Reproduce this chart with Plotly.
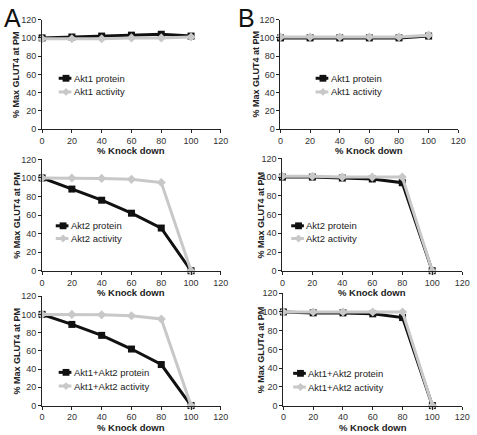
import plotly.graph_objects as go

knockdown = [0, 20, 40, 60, 80, 100]

a1_protein = [100, 101, 102, 103, 104, 102]
a1_activity = [99, 99, 99, 100, 100, 101]
a2_protein = [100, 88, 76, 62, 46, 0]
a2_activity = [100, 100, 99.5, 98.5, 95, 0]
a12_protein = [100, 89, 77, 62, 45, 0]
a12_activity = [100, 100, 99.5, 98.5, 95, 0]

b1_protein = [100, 100, 100, 100, 100, 102]
b1_activity = [101, 101, 101, 101, 101, 103]
b2_protein = [100, 100, 99, 98, 94, 0]
b2_activity = [101, 101, 100, 100, 100, 0]
b12_protein = [100, 99, 99, 98, 94, 0]
b12_activity = [100, 100, 100, 100, 100, 0]

panels = [
    ("Akt1", a1_protein, a1_activity),
    ("Akt2", a2_protein, a2_activity),
    ("Akt1+Akt2", a12_protein, a12_activity),
    ("Akt1", b1_protein, b1_activity),
    ("Akt2", b2_protein, b2_activity),
    ("Akt1+Akt2", b12_protein, b12_activity),
]

x_title = "% Knock down"
y_title = "% Max GLUT4 at PM"

W, H = 477, 435
# pixel boxes (x0, x1, ytop, ybottom)
boxes = [
    (40, 223, 15, 127),
    (40, 223, 158, 272),
    (40, 223, 298, 410),
    (284, 466, 15, 127),
    (286, 470, 157, 272),
    (287, 470, 295, 410),
]
xtitle_off = [22, 22, 22, 22, 22, 22]
ytitle_x = [14, 14, 14, 259, 264, 265]
# legend: line start x, protein row y, activity row y
legend_pos = [
    (57, 75, 89), (54, 226, 239), (57, 376, 390),
    (320, 75, 89), (295, 226, 239), (297, 377, 391),
]

BLACK = "#111111"
GRAY = "#c8c8c8"
FONT = "Liberation Sans, Arial, sans-serif"


def px(x):
    return x / W


def py(y):
    return 1 - y / H


fig = go.Figure()
layout = dict(
    width=W, height=H,
    margin=dict(l=0, r=0, t=0, b=0),
    paper_bgcolor="white", plot_bgcolor="white",
    font=dict(family=FONT, size=9, color="#222"),
    showlegend=False,
)
shapes = []
annotations = []

for i, (name, prot, act) in enumerate(panels):
    n = i + 1
    sfx = "" if n == 1 else str(n)
    fig.add_trace(go.Scatter(
        x=knockdown, y=prot, name=f"{name} protein", mode="lines+markers",
        line=dict(color=BLACK, width=3),
        marker=dict(symbol="square", size=7, color=BLACK),
        xaxis=f"x{sfx}", yaxis=f"y{sfx}", cliponaxis=False,
    ))
    fig.add_trace(go.Scatter(
        x=knockdown, y=act, name=f"{name} activity", mode="lines+markers",
        line=dict(color=GRAY, width=3),
        marker=dict(symbol="diamond", size=7, color=GRAY),
        xaxis=f"x{sfx}", yaxis=f"y{sfx}", cliponaxis=False,
    ))
    x0, x1, yt, yb = boxes[i]
    axcommon = dict(
        range=[0, 120], dtick=20, showgrid=False, zeroline=False,
        showline=True, linecolor="#222", linewidth=1,
        ticks="outside", ticklen=3, tickcolor="#222",
        tickfont=dict(size=9, family=FONT, color="#333"),
    )
    layout[f"xaxis{sfx}"] = dict(axcommon, domain=[px(x0), px(x1)], anchor=f"y{sfx}")
    layout[f"yaxis{sfx}"] = dict(axcommon, domain=[py(yb), py(yt)], anchor=f"x{sfx}")

    # axis titles
    annotations.append(dict(
        text=f"<b>{x_title}</b>", x=px((x0 + x1) / 2), y=py(yb + xtitle_off[i]),
        xref="paper", yref="paper", xanchor="center", yanchor="middle",
        showarrow=False, font=dict(size=9.5, family=FONT, color="#222"),
    ))
    annotations.append(dict(
        text=f"<b>{y_title}</b>", x=px(ytitle_x[i]), y=py((yt + yb) / 2),
        xref="paper", yref="paper", xanchor="center", yanchor="middle",
        textangle=-90, showarrow=False, font=dict(size=9, family=FONT, color="#222"),
    ))

    # legend
    lx, ly1, ly2 = legend_pos[i]
    llen = 13
    for (lyy, col, lab, sym) in [(ly1, BLACK, f"{name} protein", "sq"),
                                 (ly2, GRAY, f"{name} activity", "di")]:
        shapes.append(dict(type="line", xref="paper", yref="paper",
                           x0=px(lx), x1=px(lx + llen), y0=py(lyy), y1=py(lyy),
                           line=dict(color=col, width=3)))
        cx = lx + llen / 2 + 1
        if sym == "sq":
            shapes.append(dict(type="rect", xref="paper", yref="paper",
                               x0=px(cx - 3.5), x1=px(cx + 3.5),
                               y0=py(lyy + 3.5), y1=py(lyy - 3.5),
                               fillcolor=col, line=dict(width=0)))
        else:
            shapes.append(dict(type="path", xref="paper", yref="paper",
                               path=(f"M {px(cx)} {py(lyy - 4)} L {px(cx + 4)} {py(lyy)} "
                                     f"L {px(cx)} {py(lyy + 4)} L {px(cx - 4)} {py(lyy)} Z"),
                               fillcolor=col, line=dict(width=0)))
        annotations.append(dict(
            text=lab, x=px(lx + llen + 0.5), y=py(lyy), xref="paper", yref="paper",
            xanchor="left", yanchor="middle", showarrow=False,
            font=dict(size=9.5, family=FONT, color="#222"),
        ))

annotations.append(dict(text="A", x=px(-1), y=py(-3), xref="paper", yref="paper",
                        xanchor="left", yanchor="top", showarrow=False,
                        font=dict(size=25, family=FONT, color="#111")))
annotations.append(dict(text="B", x=px(238), y=py(-3), xref="paper", yref="paper",
                        xanchor="left", yanchor="top", showarrow=False,
                        font=dict(size=25, family=FONT, color="#111")))

layout["shapes"] = shapes
layout["annotations"] = annotations
fig.update_layout(**layout)

fig.write_html(
    "out.html",
    config={"displayModeBar": False},
    post_script="document.body.style.margin='0';document.body.style.overflow='hidden';",
)
